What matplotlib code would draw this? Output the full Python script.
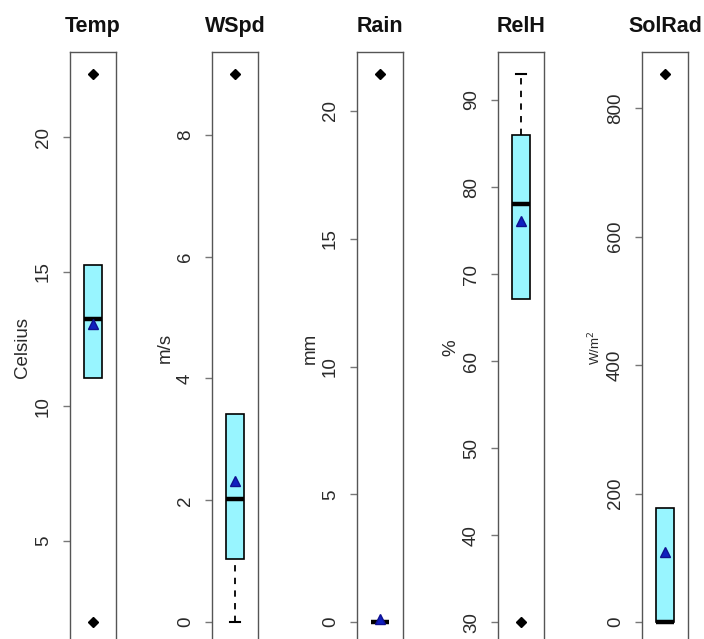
import matplotlib
matplotlib.use("Agg")
import matplotlib.pyplot as plt
import numpy as np

plt.rcParams['font.family'] = ['Liberation Sans', 'DejaVu Sans']

# ---- data ----
names = ["Temp", "WSpd", "Rain", "RelH", "SolRad"]
units = ["Celsius", "m/s", "mm", "%", "W/m$^2$"]
q1 = [11.04, 1.03, 0.0, 67.1, 0.0]
median = [13.25, 2.02, 0.0, 78.0, 0.0]
q3 = [15.26, 3.41, 0.0, 86.0, 177.0]
means = [13.06, 2.31, 0.12, 76.1, 109.0]
whisker_low = [None, 0.0, None, None, None]
whisker_high = [None, None, None, 93.0, None]
point_low = [1.98, None, None, 30.0, None]
point_high = [22.35, 9.0, 21.45, None, 853.0]
yticks = [[5, 10, 15, 20],
          [0, 2, 4, 6, 8],
          [0, 5, 10, 15, 20],
          [30, 40, 50, 60, 70, 80, 90],
          [0, 200, 400, 600, 800]]

W, H = 704, 639
fig = plt.figure(figsize=(W / 100, H / 100), dpi=100)
fig.patch.set_facecolor("white")

left_px = [70, 212, 357, 498, 642]
ax_w_px = 46
top_px = 52
bot_px = 644

box_color = "#98F5FF"
frame_color = "#555555"

for i, name in enumerate(names):
    ax = fig.add_axes([left_px[i] / W, (H - bot_px) / H,
                       ax_w_px / W, (bot_px - top_px) / H])
    vals = [v for v in [q1[i], q3[i], whisker_low[i], whisker_high[i],
                        point_low[i], point_high[i]] if v is not None]
    lo, hi = min(vals), max(vals)
    pad = 0.04 * (hi - lo)
    ax.set_ylim(lo - pad, hi + pad)
    ax.set_xlim(0.5, 1.5)

    bw = 0.4
    # whiskers
    if whisker_low[i] is not None:
        ax.plot([1, 1], [whisker_low[i], q1[i]], color="black", lw=1.3,
                ls=(0, (3.5, 3.5)), zorder=2)
        ax.plot([1 - bw / 4, 1 + bw / 4], [whisker_low[i]] * 2, color="black",
                lw=1.5, zorder=2)
    if whisker_high[i] is not None:
        ax.plot([1, 1], [q3[i], whisker_high[i]], color="black", lw=1.3,
                ls=(0, (3.5, 3.5)), zorder=2)
        ax.plot([1 - bw / 4, 1 + bw / 4], [whisker_high[i]] * 2, color="black",
                lw=1.5, zorder=2)
    # box
    ax.add_patch(plt.Rectangle((1 - bw / 2, q1[i]), bw, q3[i] - q1[i],
                               facecolor=box_color, edgecolor="black",
                               lw=1.2, zorder=3))
    ax.plot([1 - bw / 2, 1 + bw / 2], [median[i]] * 2, color="black",
            lw=3.2, solid_capstyle="butt", zorder=4)
    # extreme points
    for p in (point_low[i], point_high[i]):
        if p is not None:
            ax.plot([1], [p], marker="D", color="black", markersize=5,
                    zorder=5)
    # mean
    ax.plot([1], [means[i]], marker="^", color="#1020C0", markersize=7.5,
            markeredgecolor="#101090", zorder=6)

    # frame
    for s in ["left", "right", "top"]:
        ax.spines[s].set_color(frame_color)
        ax.spines[s].set_linewidth(1.0)
    ax.spines["bottom"].set_visible(False)
    ax.set_xticks([])
    ax.set_yticks(yticks[i])
    ax.set_yticklabels([str(t) for t in yticks[i]], rotation=90,
                       va="center", fontsize=13.5, color="#2a2a2a")
    ax.tick_params(axis="y", length=5, width=1, color="#777777", pad=8)

    ax.text(0.5, (top_px - 32) / (bot_px - top_px) + 1.0, name,
            transform=ax.transAxes, ha="center", va="baseline",
            fontsize=15.5, fontweight="bold", color="#111111")

    fs = 9.5 if i == 4 else 13.5
    ax.text(-47 / ax_w_px, (bot_px - 348) / (bot_px - top_px), units[i],
            transform=ax.transAxes, rotation=90, ha="center", va="center",
            fontsize=fs, color="#2a2a2a")

fig.savefig("out.png", dpi=100, facecolor="white")
